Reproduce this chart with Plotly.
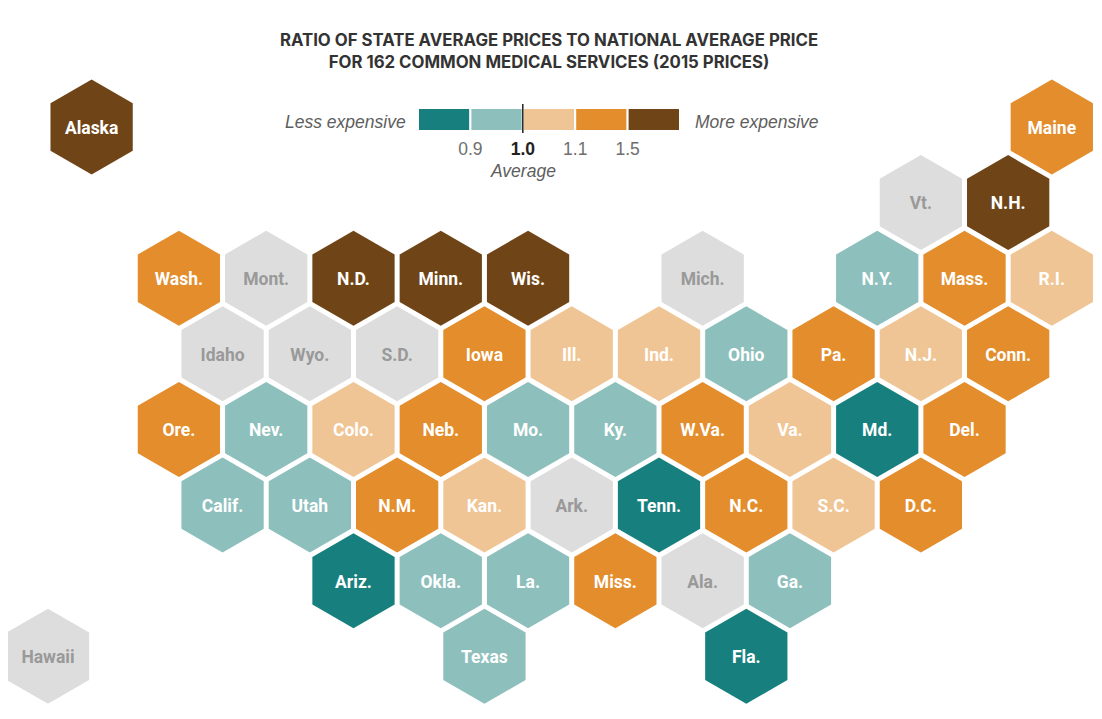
import plotly.graph_objects as go

# Ratio bins: 0 <0.9, 1 0.9-1.0, 2 1.0-1.1, 3 1.1-1.5, 4 >1.5, 5 about average (no difference)
states = ["Alaska","Maine","Vt.","N.H.",
 "Wash.","Mont.","N.D.","Minn.","Wis.","Mich.","N.Y.","Mass.","R.I.",
 "Idaho","Wyo.","S.D.","Iowa","Ill.","Ind.","Ohio","Pa.","N.J.","Conn.",
 "Ore.","Nev.","Colo.","Neb.","Mo.","Ky.","W.Va.","Va.","Md.","Del.",
 "Calif.","Utah","N.M.","Kan.","Ark.","Tenn.","N.C.","S.C.","D.C.",
 "Ariz.","Okla.","La.","Miss.","Ala.","Ga.",
 "Hawaii","Texas","Fla."]
cols = [1,23,20,22,
 3,5,7,9,11,15,19,21,23,
 4,6,8,10,12,14,16,18,20,22,
 3,5,7,9,11,13,15,17,19,21,
 4,6,8,10,12,14,16,18,20,
 7,9,11,13,15,17,
 0,10,16]
rows = [0,0,1,1,
 2,2,2,2,2,2,2,2,2,
 3,3,3,3,3,3,3,3,3,3,
 4,4,4,4,4,4,4,4,4,4,
 5,5,5,5,5,5,5,5,5,
 6,6,6,6,6,6,
 7,7,7]
bins = [4,3,5,4,
 3,5,4,4,4,5,1,3,2,
 5,5,5,3,2,2,1,3,2,3,
 3,1,2,3,1,1,3,2,0,3,
 1,1,3,2,5,0,3,2,3,
 0,1,1,3,5,1,
 5,1,0]

bin_colors = ["#17807E","#8DBFBC","#F0C595","#E38D2C","#6F4518","#DDDDDD"]
legend_bins = [0,1,2,3,4]
legend_ticks = [1,2,3,4]
legend_labels = ["0.9","<span style='color:#222222'><b>1.0</b></span>","1.1","1.5"]

# The page body has an 8px margin, so the figure is laid out in page pixels minus that offset.
OFF = 8
W, H = 1102 - OFF, 719 - OFF
def fx(px): return (px - OFF) / W
def fy(py): return 1 - (py - OFF) / H

ROW_RANGE = [7.83, -1.574]
LABEL_DROP = 0.033  # state labels sit slightly below the geometric middle of the hexagons

fig = go.Figure()
fig.add_trace(go.Scatter(
    x=cols, y=rows, mode="markers",
    marker=dict(symbol="hexagon", size=95, color=[bin_colors[b] for b in bins], line=dict(width=0)),
    cliponaxis=False, hoverinfo="skip", showlegend=False,
))
fig.add_trace(go.Scatter(
    x=cols, y=rows, text=states, mode="text", yaxis="y3",
    textposition="middle center",
    textfont=dict(family="Roboto", size=17.5, weight=700,
                  color=["#999999" if b == 5 else "#FFFFFF" for b in bins]),
    cliponaxis=False, hoverinfo="text", showlegend=False,
))
for b in legend_bins:
    fig.add_trace(go.Bar(
        x=[1], y=[""], base=[b], orientation="h", width=1,
        marker=dict(color=bin_colors[b], line=dict(color="#FFFFFF", width=2)),
        xaxis="x2", yaxis="y2", showlegend=False, hoverinfo="skip",
    ))

grey = "#5E5E5E"
italic = dict(family="Liberation Sans", size=17.5, color=grey, style="italic")
fig.update_layout(
    width=W, height=H, autosize=False,
    margin=dict(l=0, r=0, t=0, b=0), paper_bgcolor="white", plot_bgcolor="white",
    barmode="overlay",
    title=dict(text="RATIO OF STATE AVERAGE PRICES TO NATIONAL AVERAGE PRICE<br>FOR 162 COMMON MEDICAL SERVICES (2015 PRICES)",
               x=fx(549), xanchor="center", y=fy(46), yanchor="top",
               font=dict(family="Inter", size=16.8, weight=700, color="#333333")),
    xaxis=dict(range=[-0.916, 24.15], visible=False, domain=[0, 1]),
    yaxis=dict(range=ROW_RANGE, visible=False, domain=[0, 1]),
    yaxis3=dict(range=[ROW_RANGE[0] - LABEL_DROP, ROW_RANGE[1] - LABEL_DROP], visible=False, overlaying="y", anchor="x"),
    xaxis2=dict(domain=[fx(418), fx(680)], range=[0, 5], anchor="y2", tickvals=legend_ticks, ticktext=legend_labels,
                ticks="", showgrid=False, zeroline=False, showline=False, ticklabelstandoff=5,
                tickfont=dict(family="Liberation Sans", size=17.5, color="#6E6E6E")),
    yaxis2=dict(domain=[fy(131), fy(108)], anchor="x2", visible=False),
    shapes=[dict(type="line", xref="x2", x0=2, x1=2, yref="paper", y0=fy(133), y1=fy(104),
                 line=dict(color="#222222", width=1.5))],
    annotations=[
        dict(text="Less expensive", x=fx(408), xanchor="right", y=fy(121.5), yanchor="middle", xref="paper", yref="paper", showarrow=False, font=italic),
        dict(text="More expensive", x=fx(692.5), xanchor="left", y=fy(121.5), yanchor="middle", xref="paper", yref="paper", showarrow=False, font=italic),
        dict(text="Average", x=2, xref="x2", xanchor="center", y=fy(171), yanchor="middle", yref="paper", showarrow=False, font=italic),
    ],
)
fig.write_html("out.html", config=dict(displayModeBar=False))
